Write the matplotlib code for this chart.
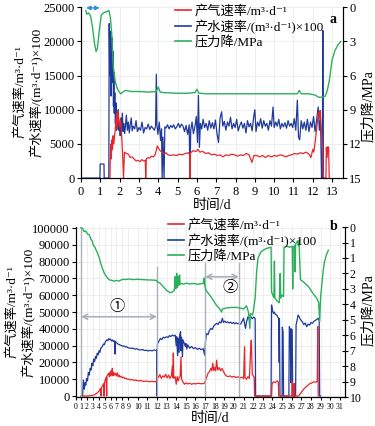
import numpy as np
import matplotlib
matplotlib.use("Agg")
import matplotlib.pyplot as plt
from matplotlib.lines import Line2D

FAM = ["Liberation Serif", "Noto Sans CJK SC", "DejaVu Sans"]
plt.rcParams["font.family"] = FAM

RED = "#e8262a"
BLUE = "#1f3a9c"
GREEN = "#2bb05a"

# ---------------- panel a ----------------
a_gas = [(1.50, 0), (1.52, 3500), (1.55, 5000), (1.57, 2800), (1.60, 5600), (1.63, 4200), (1.66, 6200),
         (1.70, 5000), (1.75, 6500), (1.80, 8000), (1.85, 9500), (1.88, 7200), (1.92, 9900), (1.96, 8200),
         (2.00, 7500), (2.04, 8600), (2.08, 7400), (2.12, 5500), (2.16, 3000), (2.20, 0), (2.25, 3800),
         (2.35, 3600), (2.45, 3500), (2.55, 3000), (2.65, 3100), (2.75, 2800), (2.85, 2500), (2.95, 2600),
         (3.05, 2400), (3.15, 2700), (3.25, 2500), (3.33, 2600), (3.35, 0), (3.38, 2800), (3.45, 3000),
         (3.55, 2900), (3.65, 3200), (3.75, 3100), (3.85, 3500), (3.95, 4700), (4.02, 4300), (4.10, 4000),
         (4.20, 3800), (4.30, 3500), (4.40, 3700), (4.50, 3400), (4.65, 3300), (4.80, 3400), (4.95, 3300),
         (5.10, 3500), (5.25, 3400), (5.40, 3600), (5.55, 3700), (5.62, 3500), (5.64, 0), (5.67, 3700),
         (5.80, 4000), (5.95, 3900), (6.05, 4200), (6.15, 3800), (6.30, 3900), (6.45, 3600), (6.60, 3700),
         (6.75, 3400), (6.90, 3500), (7.05, 3300), (7.20, 3400), (7.35, 3100), (7.50, 3400), (7.65, 3300),
         (7.80, 3500), (7.95, 3400), (8.10, 3200), (8.25, 3400), (8.40, 3300), (8.55, 3600), (8.70, 3400),
         (8.85, 2300), (8.95, 3300), (9.10, 3300), (9.25, 3100), (9.40, 3300), (9.55, 3000), (9.70, 3300),
         (9.85, 3100), (10.00, 3300), (10.15, 3200), (10.30, 3400), (10.45, 3300), (10.60, 3100),
         (10.75, 3300), (10.90, 3400), (11.05, 3600), (11.20, 3500), (11.35, 3700), (11.50, 3600),
         (11.65, 3800), (11.80, 3500), (11.90, 3000), (12.00, 4200), (12.05, 3800), (12.12, 5200),
         (12.18, 6800), (12.24, 8200), (12.30, 9600), (12.34, 8800), (12.38, 9900), (12.42, 7800),
         (12.46, 6500), (12.50, 4500), (12.53, 1000), (12.56, 0), (12.68, 0), (12.70, 4500), (12.74, 3000),
         (12.78, 4600), (12.82, 4400), (12.85, 0)]

a_water = [(0.0, 0), (0.98, 0), (0.99, 2050), (1.19, 2050), (1.20, 0), (1.44, 0), (1.46, 22600),
           (1.48, 17000), (1.50, 21500), (1.52, 15000), (1.54, 20800), (1.56, 12000), (1.58, 19500),
           (1.60, 14000), (1.62, 20500), (1.64, 16000), (1.66, 18500), (1.68, 10500), (1.70, 15500),
           (1.72, 9500), (1.75, 12500), (1.78, 8000), (1.81, 11000), (1.84, 7000), (1.87, 9500),
           (1.90, 7500), (1.93, 10000), (1.96, 7000), (2.00, 8000), (2.03, 6200), (2.06, 8800),
           (2.10, 7000), (2.14, 9500), (2.18, 6800), (2.22, 8000), (2.26, 6500), (2.30, 7600),
           (2.35, 9200), (2.40, 7000), (2.45, 8200), (2.50, 6600), (2.55, 7800), (2.60, 8800),
           (2.65, 6900), (2.70, 7600), (2.78, 7200), (2.85, 8400), (2.92, 6800), (3.00, 7400),
           (3.08, 7000), (3.16, 8200), (3.24, 6600), (3.32, 7400), (3.40, 7200), (3.48, 7900),
           (3.56, 7100), (3.64, 7600), (3.72, 7300), (3.80, 7000), (3.86, 7600), (3.90, 15200),
           (3.93, 7800), (3.98, 6400), (4.05, 8200), (4.12, 5500), (4.17, 7200), (4.20, 0), (4.24, 6000),
           (4.30, 0), (4.34, 7500), (4.40, 7300), (4.48, 7800), (4.56, 7200), (4.64, 7700), (4.72, 7400),
           (4.80, 7800), (4.88, 7200), (4.96, 7500), (5.04, 8000), (5.12, 7400), (5.20, 7900),
           (5.28, 7600), (5.36, 6800), (5.44, 7700), (5.52, 6400), (5.60, 7800), (5.64, 0), (5.68, 7000),
           (5.75, 8200), (5.82, 6500), (5.90, 7600), (5.97, 9000), (6.03, 5200), (6.08, 12100),
           (6.13, 4500), (6.18, 8000), (6.25, 7200), (6.32, 8600), (6.40, 7400), (6.48, 8000),
           (6.56, 7000), (6.64, 8400), (6.72, 7300), (6.80, 8100), (6.88, 7200), (6.96, 8500),
           (7.04, 6500), (7.12, 5200), (7.20, 8800), (7.28, 9700), (7.34, 7600), (7.42, 8300),
           (7.50, 7000), (7.58, 8200), (7.66, 7600), (7.74, 8900), (7.82, 7200), (7.90, 8000),
           (7.98, 7400), (8.06, 8600), (8.14, 6900), (8.22, 7700), (8.30, 8200), (8.38, 7300),
           (8.46, 8000), (8.54, 6600), (8.62, 8400), (8.70, 7500), (8.78, 8000), (8.86, 6900),
           (8.94, 9000), (9.00, 10000), (9.06, 6800), (9.14, 8200), (9.22, 7600), (9.30, 8700),
           (9.38, 7300), (9.46, 8400), (9.54, 7600), (9.62, 8000), (9.70, 7000), (9.78, 8400),
           (9.86, 7600), (9.94, 10400), (10.00, 7400), (10.08, 8200), (10.16, 7600), (10.24, 8600),
           (10.32, 7200), (10.40, 8000), (10.48, 7500), (10.56, 8100), (10.64, 7300), (10.72, 8400),
           (10.80, 7600), (10.88, 8000), (10.96, 7400), (11.04, 8700), (11.12, 7000), (11.20, 11400),
           (11.26, 6000), (11.32, 5600), (11.40, 8400), (11.48, 7200), (11.56, 8200), (11.64, 7000),
           (11.72, 8600), (11.80, 6800), (11.88, 8200), (11.96, 7400), (12.04, 9000), (12.12, 6800),
           (12.20, 8600), (12.28, 10400), (12.34, 7000), (12.40, 8800), (12.45, 0), (12.49, 0),
           (12.52, 21600), (12.55, 0)]

a_press = [(0.25, 0.3), (0.30, 0.6), (0.40, 0.5), (0.50, 0.8), (0.60, 1.8), (0.70, 3.2), (0.78, 3.9),
           (0.85, 3.6), (0.95, 2.0), (1.05, 0.7), (1.15, 0.5), (1.30, 0.4), (1.45, 0.3), (1.52, 0.9),
           (1.59, 2.3), (1.67, 5.2), (1.76, 6.4), (1.85, 7.0), (1.93, 7.3), (2.05, 7.6), (2.30, 7.3),
           (2.60, 7.4), (3.00, 7.4), (3.50, 7.45), (3.90, 7.4), (4.00, 7.0), (4.10, 7.45), (4.30, 7.5),
           (5.00, 7.55), (5.50, 7.55), (5.90, 7.5), (6.00, 7.2), (6.10, 7.55), (6.50, 7.6), (7.50, 7.6),
           (8.50, 7.6), (9.50, 7.6), (10.50, 7.6), (11.20, 7.6), (11.30, 7.3), (11.40, 7.6), (11.80, 7.6),
           (12.10, 7.7), (12.30, 7.9), (12.50, 7.9), (12.65, 7.8), (12.75, 7.3), (12.85, 6.5),
           (13.00, 4.6), (13.15, 3.8), (13.30, 3.3), (13.45, 3.0)]

# ---------------- panel b ----------------
b_gas = [(1.0, 0), (2.0, 0), (2.5, 200), (3.0, 400), (3.3, 800), (3.6, 1500), (3.9, 2400), (4.1, 3200),
         (4.3, 4500), (4.4, 0), (4.45, 4800), (4.6, 5800), (4.8, 7200), (4.9, 0), (4.95, 7800), (5.1, 9500),
         (5.25, 11200), (5.35, 0), (5.4, 11800), (5.55, 13000), (5.7, 13500), (5.8, 11500), (5.9, 14000),
         (6.0, 12000), (6.1, 15000), (6.2, 12500), (6.3, 16500), (6.4, 12000), (6.55, 14000),
         (6.7, 12500), (6.85, 13500), (7.0, 12000), (7.15, 13800), (7.3, 11500), (7.45, 12500),
         (7.6, 11200), (7.8, 11800), (8.0, 10800), (8.2, 11200), (8.4, 10400), (8.6, 10600), (8.8, 10000),
         (9.0, 10200), (9.2, 9600), (9.4, 9800), (9.6, 9300), (9.8, 9500), (10.0, 9000), (10.3, 9200),
         (10.6, 8700), (10.9, 8900), (11.2, 8500), (11.5, 8700), (11.8, 8500), (11.98, 8600),
         (12.0, 12500), (12.15, 11000), (12.3, 12800), (12.45, 10500), (12.6, 12000), (12.75, 11200),
         (12.9, 13000), (13.05, 10800), (13.2, 12500), (13.35, 10500), (13.5, 12000), (13.6, 18000),
         (13.65, 11000), (13.7, 25600), (13.75, 10500), (13.9, 11500), (14.0, 7000), (14.1, 11500),
         (14.2, 9000), (14.3, 11000), (14.4, 11500), (14.5, 23400), (14.55, 10000), (14.7, 8500),
         (14.85, 7000), (15.0, 7800), (15.2, 7200), (15.4, 7600), (15.6, 7000), (15.8, 7500),
         (16.0, 7200), (16.3, 7600), (16.6, 7300), (16.9, 7500), (17.0, 8500), (17.15, 11000),
         (17.3, 13500), (17.45, 14500), (17.6, 16500), (17.7, 15000), (17.8, 19500), (17.9, 15200),
         (18.0, 17000), (18.1, 15000), (18.2, 21400), (18.3, 15500), (18.45, 17000), (18.6, 15000),
         (18.75, 16500), (18.9, 14800), (19.05, 13000), (19.2, 12000), (19.4, 11500), (19.6, 12000),
         (19.8, 11200), (20.0, 11800), (20.2, 11000), (20.4, 11500), (20.6, 10800), (20.8, 11200),
         (21.0, 10500), (21.1, 29400), (21.15, 11000), (21.3, 10000), (21.45, 11500), (21.6, 10500),
         (21.75, 30000), (21.8, 33300), (21.9, 13000), (22.0, 12000), (22.1, 11000), (22.15, 0),
         (23.9, 0), (23.95, 7000), (24.1, 8500), (24.3, 8000), (24.5, 9000), (24.6, 8500), (24.65, 0),
         (26.0, 0), (26.05, 8500), (26.1, 0), (26.2, 0), (26.25, 7500), (26.3, 0), (26.7, 0),
         (26.9, 1500), (27.1, 3000), (27.3, 4500), (27.5, 5500), (27.7, 6500), (27.9, 7500),
         (28.1, 7800), (28.3, 8500), (28.5, 8200), (28.65, 9000), (28.7, 41300), (28.75, 0)]

b_water = [(1.0, 0), (1.27, 0), (1.4, 9500), (1.55, 4000), (1.7, 8000), (1.8, 6500), (1.95, 10500),
           (2.1, 9000), (2.25, 14000), (2.4, 12500), (2.55, 16500), (2.7, 15500), (2.85, 19500),
           (3.0, 18000), (3.15, 22000), (3.3, 20500), (3.45, 23500), (3.6, 22500), (3.75, 25500),
           (3.9, 24500), (4.05, 27000), (4.2, 26000), (4.35, 28500), (4.5, 29000), (4.65, 29800),
           (4.8, 31000), (4.95, 30500), (5.1, 32200), (5.25, 32800), (5.4, 33500), (5.55, 33000),
           (5.7, 34200), (5.85, 33600), (6.0, 33800), (6.15, 32800), (6.3, 33400), (6.45, 32500),
           (6.6, 33000), (6.7, 32000), (6.75, 25000), (6.8, 32600), (6.95, 31800), (7.1, 31600),
           (7.3, 30800), (7.5, 30600), (7.7, 30200), (7.9, 30000), (8.1, 29600), (8.3, 29800),
           (8.5, 29200), (8.7, 29400), (8.9, 28800), (9.1, 28600), (9.3, 28400), (9.5, 28500),
           (9.7, 27900), (9.9, 28200), (10.1, 27600), (10.3, 27400), (10.5, 27700), (10.7, 27100),
           (10.9, 27300), (11.1, 26800), (11.3, 27200), (11.5, 26900), (11.7, 27400), (11.9, 27100),
           (11.98, 27500), (12.0, 0), (12.02, 0), (12.05, 31000), (12.2, 32500), (12.35, 34300),
           (12.5, 33600), (12.65, 35000), (12.8, 34600), (13.0, 35300), (13.15, 34800), (13.3, 36000),
           (13.45, 35400), (13.6, 36300), (13.75, 35800), (13.9, 36200), (14.0, 30000), (14.05, 35300),
           (14.15, 24000), (14.2, 34500), (14.3, 26000), (14.35, 36000), (14.45, 38300), (14.5, 27000),
           (14.55, 35000), (14.65, 23400), (14.7, 33500), (14.85, 31000), (14.95, 29500), (15.0, 31300),
           (15.1, 28000), (15.2, 30500), (15.4, 28500), (15.6, 29500), (15.8, 28200), (16.0, 28800),
           (16.2, 27800), (16.4, 28400), (16.6, 27600), (16.8, 28200), (16.95, 24400), (17.05, 33000),
           (17.15, 37300), (17.3, 36500), (17.45, 39000), (17.6, 40300), (17.75, 39600), (17.9, 41800),
           (18.05, 42500), (18.2, 43300), (18.35, 42600), (18.5, 44200), (18.65, 43500), (18.8, 46300),
           (18.9, 43800), (19.05, 44600), (19.2, 43700), (19.35, 44200), (19.5, 43400), (19.65, 44000),
           (19.8, 43200), (19.95, 43800), (20.1, 43000), (20.25, 43600), (20.4, 43000), (20.55, 43300),
           (20.7, 42800), (20.85, 44500), (21.0, 46300), (21.1, 43000), (21.2, 40300), (21.3, 44000),
           (21.45, 47200), (21.6, 45500), (21.75, 47200), (21.9, 46000), (22.05, 47000), (22.2, 46300),
           (22.25, 0), (23.85, 0), (23.9, 54200), (24.0, 51000), (24.1, 49200), (24.2, 50000),
           (24.3, 48500), (24.45, 48200), (24.55, 47000), (24.65, 46200), (24.7, 20000), (24.72, 46000),
           (24.78, 0), (25.0, 0), (25.02, 41000), (25.1, 38000), (25.15, 0), (25.7, 0), (25.75, 41300),
           (25.85, 39500), (25.9, 8000), (25.95, 40000), (26.05, 39300), (26.1, 0), (26.4, 0),
           (26.45, 42300), (26.55, 45000), (26.65, 48200), (26.75, 47500), (26.85, 46000), (26.95, 45200),
           (27.1, 44200), (27.25, 42500), (27.4, 43500), (27.55, 41300), (27.7, 42800), (27.85, 42200),
           (28.0, 43800), (28.15, 43300), (28.3, 44500), (28.45, 45000), (28.6, 45600), (28.75, 46300),
           (28.85, 45000), (28.9, 0), (29.0, 0)]

# pressure drop on the (odd-labelled) right axis, in tick units
b_press = [(1.0, 0.05), (1.3, 0.1), (1.5, 0.3), (1.8, 0.25), (2.1, 0.45), (2.4, 0.5), (2.7, 0.8),
           (2.9, 0.9), (3.1, 1.2), (3.3, 1.25), (3.5, 1.45), (3.7, 1.6), (3.9, 1.8), (4.1, 2.0),
           (4.3, 2.3), (4.6, 2.65), (4.9, 2.95), (5.2, 3.15), (5.5, 3.3), (5.8, 3.42), (6.2, 3.45),
           (6.6, 3.5), (7.0, 3.45), (7.4, 3.5), (7.8, 3.42), (8.2, 3.38), (8.6, 3.4), (9.0, 3.36),
           (9.5, 3.4), (10.0, 3.38), (10.5, 3.4), (11.0, 3.42), (11.5, 3.43), (11.95, 3.45), (12.05, 3.55),
           (12.3, 3.62), (12.65, 3.85), (13.0, 4.1), (13.35, 4.25), (13.6, 4.2), (13.8, 4.1), (13.9, 3.2),
           (13.95, 4.0), (14.05, 3.0), (14.1, 3.9), (14.2, 3.2), (14.25, 3.8), (14.35, 3.1), (14.4, 3.7),
           (14.6, 3.65), (14.8, 3.7), (15.0, 3.63), (15.4, 3.68), (15.8, 3.65), (16.2, 3.7), (16.5, 3.68),
           (16.8, 3.65), (16.9, 3.3), (16.95, 3.75), (17.1, 4.1), (17.35, 4.3), (17.6, 4.5), (17.8, 4.7),
           (18.0, 4.9), (18.3, 5.15), (18.6, 5.37), (18.7, 5.5), (18.8, 5.3), (19.3, 5.23), (19.8, 5.2),
           (20.3, 5.2), (20.7, 5.25), (21.0, 5.3), (21.3, 5.1), (21.5, 5.5), (21.65, 6.55), (21.7, 5.6),
           (21.9, 5.7), (22.0, 5.5), (22.2, 4.6), (22.35, 2.9), (22.5, 2.0), (22.8, 1.6), (23.3, 1.4),
           (23.85, 1.3), (23.9, 4.2), (24.1, 4.5), (24.15, 4.55), (24.2, 2.2), (24.25, 4.6), (24.5, 4.8),
           (24.7, 4.9), (24.8, 3.0), (24.85, 4.6), (25.0, 4.4), (25.15, 4.5), (25.2, 1.3), (25.5, 1.25),
           (25.8, 1.3), (26.05, 1.25), (26.1, 4.0), (26.15, 1.3), (26.3, 1.2), (26.35, 2.9), (26.4, 1.1),
           (26.6, 0.9), (26.7, 1.2), (26.75, 0.85), (26.9, 3.4), (27.1, 3.5), (27.4, 3.65), (27.8, 3.9),
           (28.1, 4.2), (28.4, 4.45), (28.6, 4.6), (28.8, 4.9), (28.9, 6.1), (29.0, 4.5), (29.1, 3.9),
           (29.25, 2.9), (29.4, 2.24), (29.6, 1.8), (29.8, 1.5)]

b_right_labels = ["0", "1", "1", "2", "3", "4", "5", "6", "7", "8", "9", "10"]

LBL_GAS = "产气速率/m³·d⁻¹"
LBL_WATER = "产水速率/(m³·d⁻¹)×100"
LBL_P = "压力降/MPa"

# squeezed day axis of panel b (labels 0-9 narrower than 10-31)
XK = np.array([0.0, 1.0, 9.0, 10.0, 31.5])
UK = np.array([0.0, 5.0, 52.3, 61.7, 268.7])


def fwd(x):
    x = np.asarray(x, float)
    return np.where(x < 0, x * 5.0, np.where(x > 31.5, 268.7 + (x - 31.5) * 9.63, np.interp(x, XK, UK)))


def inv(u):
    u = np.asarray(u, float)
    return np.where(u < 0, u / 5.0, np.where(u > 268.7, 31.5 + (u - 268.7) / 9.63, np.interp(u, UK, XK)))


def xy(pairs):
    t, v = zip(*pairs)
    return np.array(t), np.array(v)


fig = plt.figure(figsize=(3.75, 4.26), dpi=100)
GRID = dict(color="#ebebeb", lw=0.6)

# ---------- a ----------
ax1 = fig.add_axes([0.216, 0.582, 0.699, 0.401])
ax1r = ax1.twinx()
for ax in (ax1, ax1r):
    ax.spines["top"].set_visible(False)
ax1.set_xlim(0, 13.57)
ax1.set_ylim(0, 25000)
ax1r.set_ylim(15, 0)
ax1.set_xticks(range(14))
ax1.set_yticks(range(0, 25001, 5000))
ax1r.set_yticks(range(0, 16, 3))
ax1.grid(True, **GRID)
ax1.set_axisbelow(True)

t, v = xy(a_water)
ax1.plot(t, v, color=BLUE, lw=0.9)
t, v = xy(a_gas)
ax1.plot(t, v, color=RED, lw=0.9)
t, v = xy(a_press)
ax1r.plot(t, v, color=GREEN, lw=1.0)

ax1.annotate("", xy=(0.97, 24900), xytext=(0.26, 24900), annotation_clip=False,
             arrowprops=dict(arrowstyle="<|-|>,head_length=0.25,head_width=0.12", color="#2f8fd6",
                             lw=1.0, shrinkA=0, shrinkB=0))
ax1.text(0.975, 0.965, "a", transform=ax1.transAxes, ha="right", va="top", fontsize=10, fontweight="bold")

for ax in (ax1, ax1r):
    ax.tick_params(labelsize=9, length=3, width=0.8, direction="out", pad=1.5)
ax1.tick_params(axis="x", pad=2.5)
ax1.set_xlabel("时间/d", fontsize=10, labelpad=1)

# ---------- b ----------
ax2 = fig.add_axes([76 / 375, 0.068, 268.7 / 375, 0.399])
ax2.set_xscale("function", functions=(fwd, inv))
ax2r = ax2.twinx()
for ax in (ax2, ax2r):
    ax.spines["top"].set_visible(False)
ax2.set_xlim(0, 31.5)
ax2.set_ylim(-600, 100600)
ax2r.set_ylim(11.0, 0)
ax2.set_xticks(range(32))
ax2.set_yticks(range(0, 100001, 10000))
ax2r.set_yticks(range(12))
ax2r.set_yticklabels(b_right_labels)
ax2.grid(True, **GRID)
ax2.set_axisbelow(True)

t, v = xy(b_water)
ax2.plot(t, v, color=BLUE, lw=0.9)
t, v = xy(b_gas)
ax2.plot(t, v, color=RED, lw=0.9)
t, v = xy(b_press)
ax2r.plot(t, v, color=GREEN, lw=1.0)

GRAY = "#a9b1b8"
ax2.plot([1, 1], [0, 100600], color=GRAY, lw=1.0)
ax2.plot([12, 12], [0, 77000], color=GRAY, lw=1.0)
ax2.plot([17, 17], [0, 79000], color=GRAY, lw=1.0)
ax2.plot([20.5, 20.5], [0, 79000], color=GRAY, lw=1.0)
ax2.annotate("", xy=(12, 47200), xytext=(1, 47200),
             arrowprops=dict(arrowstyle="<->,head_length=0.35,head_width=0.18", color=GRAY, lw=1.2,
                             shrinkA=0, shrinkB=0))
ax2.annotate("", xy=(20.5, 71000), xytext=(17, 71000),
             arrowprops=dict(arrowstyle="<->,head_length=0.35,head_width=0.18", color=GRAY, lw=1.2,
                             shrinkA=0, shrinkB=0))
ax2.text(7.1, 52800, "①", ha="center", va="center", fontsize=11)
ax2.text(19.6, 64500, "②", ha="center", va="center", fontsize=11)
ax2.text(0.975, 1.04, "b", transform=ax2.transAxes, ha="right", va="top", fontsize=10, fontweight="bold")

ax2.tick_params(axis="x", labelsize=5.6, length=2, width=0.8, pad=2)
ax2.tick_params(axis="y", labelsize=9, length=3, width=0.8, pad=1.5)
ax2r.tick_params(axis="y", labelsize=8.5, length=4, width=0.8, direction="inout", pad=1.5)
ax2.set_xlabel("时间/d", fontsize=10, labelpad=1)

# ---------- shared labels / legends ----------
fig.text(29 / 375, 1 - 92 / 426, LBL_GAS + "\n" + LBL_WATER, rotation=90, ha="center", va="center",
         fontsize=9.5, linespacing=1.3, multialignment="center")
fig.text(21 / 375, 1 - 312 / 426, LBL_GAS + "\n" + LBL_WATER, rotation=90, ha="center", va="center",
         fontsize=9.5, linespacing=1.3, multialignment="center")
fig.text(368 / 375, 1 - 106 / 426, LBL_P, rotation=90, ha="center", va="center", fontsize=10)
fig.text(368 / 375, 1 - 310 / 426, LBL_P, rotation=90, ha="center", va="center", fontsize=10)

handles = [Line2D([], [], color=RED, lw=1.2), Line2D([], [], color=BLUE, lw=1.2),
           Line2D([], [], color=GREEN, lw=1.2)]
labels = [LBL_GAS, LBL_WATER, LBL_P]
LEG = dict(loc="upper left", frameon=False, fontsize=9.5, handlelength=1.2, handletextpad=0.3,
           labelspacing=0.15, borderpad=0, borderaxespad=0)
fig.legend(handles, labels, bbox_to_anchor=(175 / 375, 1 - 5 / 426), **LEG)
fig.legend(handles, labels, bbox_to_anchor=(168 / 375, 1 - 219 / 426), **LEG)

fig.savefig("out.png", dpi=100)
